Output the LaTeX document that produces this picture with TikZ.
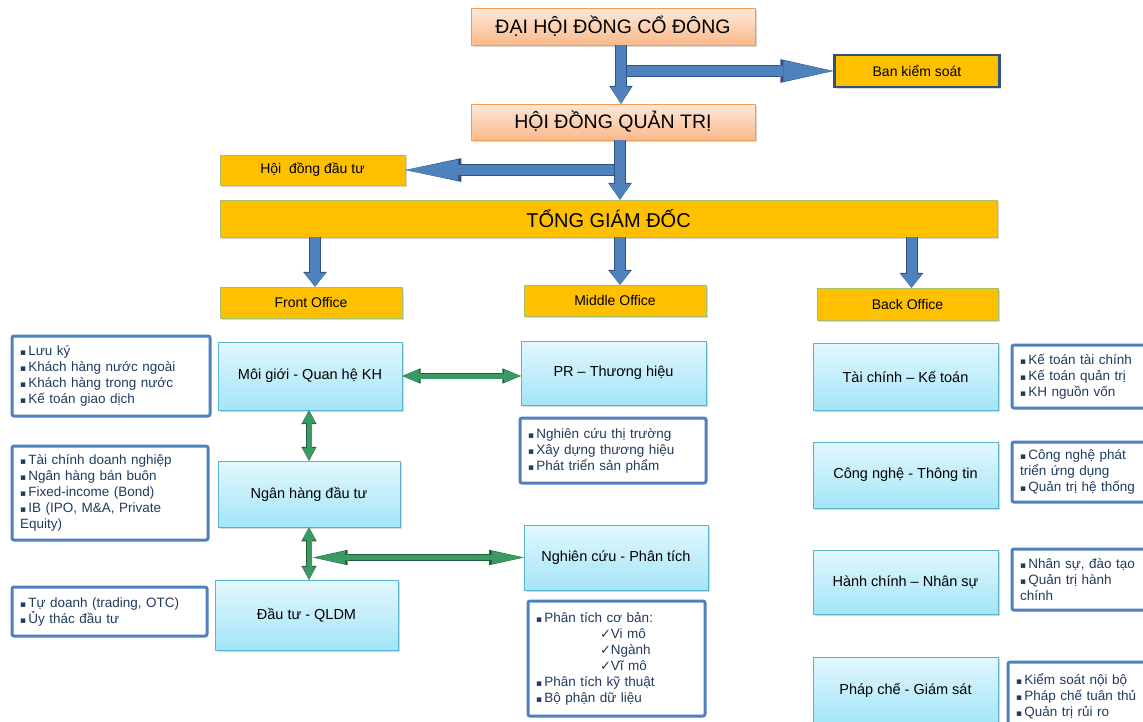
\documentclass[tikz,border=0pt]{standalone}
\usepackage{fontspec}
\setmainfont{Liberation Sans}
\newfontfamily\symfont{DejaVu Sans}
\usetikzlibrary{arrows.meta,shadows}
\definecolor{peachtop}{HTML}{FDE9D9}
\definecolor{peachbot}{HTML}{FAB98A}
\definecolor{peachline}{HTML}{F59D56}
\definecolor{gold}{HTML}{FFC000}
\definecolor{goldline}{HTML}{A5C26A}
\definecolor{cyantop}{HTML}{E2F7FD}
\definecolor{cyanbot}{HTML}{A3E5F8}
\definecolor{cyanline}{HTML}{5AB4CE}
\definecolor{listline}{HTML}{4F81BD}
\definecolor{listtext}{HTML}{1F3B5E}
\definecolor{arrowblue}{HTML}{4F81BD}
\definecolor{arrowedge}{HTML}{2F5282}
\definecolor{arrowgreen}{HTML}{3A9A64}
\definecolor{greenedge}{HTML}{235E3D}
\newcommand{\itm}{{\symfont\fontsize{9}{9}\selectfont ▪}\,}
\newcommand{\chk}{{\symfont\fontsize{13}{13}\selectfont ✓}}
\begin{document}
\begin{tikzpicture}[x=1pt, y=-1pt,
  top box/.style={draw=peachline, top color=peachtop, bottom color=peachbot, minimum width=284pt, minimum height=37pt, font=\fontsize{19.5}{22}\selectfont, drop shadow={shadow xshift=1.5pt,shadow yshift=-1.5pt,opacity=.3}},
  gold box/.style={draw=goldline, fill=gold, font=\fontsize{14}{16}\selectfont, drop shadow={shadow xshift=1.5pt,shadow yshift=-1.5pt,opacity=.3}},
  dept box/.style={draw=cyanline, top color=cyantop, bottom color=cyanbot, minimum width=184pt, minimum height=66pt, font=\fontsize{14.5}{17}\selectfont, drop shadow={shadow xshift=1.5pt,shadow yshift=-1.5pt,opacity=.3}},
  list box/.style={draw=listline, line width=3pt, fill=white, rounded corners=2pt, inner xsep=7pt, align=left, text=listtext, font=\fontsize{13.5}{16}\selectfont},
  blue arrow/.style={draw=arrowblue, line width=10pt,
    -{Triangle[width=21pt,length=#1,line width=0pt]},
    preaction={draw=arrowedge, line width=12pt,
      -{Triangle[width=21pt,length=#1,line width=0pt,scale width=1.13,scale length=1.06]}}},
  blue arrow/.default=16pt,
  green arrow/.style={draw=arrowgreen, line width=5pt,
    {Triangle[width=13pt,length=#1,line width=0pt]}-{Triangle[width=13pt,length=#1,line width=0pt]},
    preaction={draw=greenedge, line width=6.6pt,
      {Triangle[width=13pt,length=#1,line width=0pt,scale width=1.18,scale length=1.08]}-{Triangle[width=13pt,length=#1,line width=0pt,scale width=1.18,scale length=1.08]}}},
  green arrow/.default=13pt]
\clip (0,0) rectangle (1143,721);
\fill[white] (0,0) rectangle (1143,721);
\begin{scope}
\node[top box] (dhcd) at (613,26.5) {ĐẠI HỘI ĐỒNG CỔ ĐÔNG};
\node[top box, minimum height=36pt] (hdqt) at (613,122) {HỘI ĐỒNG QUẢN TRỊ};
\node[gold box, draw=arrowedge, line width=2.5pt, minimum width=165pt, minimum height=32pt] (bks) at (917,71) {Ban kiểm soát};
\node[gold box, minimum width=185pt, minimum height=30pt] (hddt) at (312.5,170) {Hội~ đồng đầu tư};
\node[gold box, minimum width=777pt, minimum height=37pt, font=\fontsize{20}{22}\selectfont] (tgd) at (608.5,218.5) {TỔNG GIÁM ĐỐC};
\node[gold box, minimum width=182pt, minimum height=31pt] (front) at (311,302.5) {Front Office};
\node[gold box, minimum width=182pt, minimum height=31pt] (middle) at (615,300.5) {Middle Office};
\node[gold box, minimum width=181pt, minimum height=32pt] (back) at (907.5,304) {Back Office};
\end{scope}
\begin{scope}
%front office
\node[dept box, minimum height=68pt] (mg) at (310,376) {Môi giới - Quan hệ KH};
\node[dept box, minimum width=182pt] (nhdt) at (309,494) {Ngân hàng đầu tư};
\node[dept box, minimum width=183pt, minimum height=70pt] (dtql) at (306.5,615) {Đầu tư - QLDM};
%middle office
\node[dept box, minimum width=185pt, minimum height=64pt] (pr) at (613.5,373) {PR – Thương hiệu};
\node[dept box, minimum height=65pt] (ncpt) at (616,557.5) {Nghiên cứu - Phân tích};
%back office
\node[dept box, minimum width=185pt, minimum height=67pt] (tckt) at (905.5,376.5) {Tài chính – Kế toán};
\node[dept box, minimum width=185pt] (cntt) at (905.5,475) {Công nghệ - Thông tin};
\node[dept box, minimum width=185pt, minimum height=64pt] (hcns) at (905.5,582) {Hành chính – Nhân sự};
\node[dept box, minimum width=185pt] (pcgs) at (905.5,690) {Pháp chế - Giám sát};
\end{scope}
\begin{scope}
\node[list box, minimum width=198pt, minimum height=80pt, text width=182pt] (lmg) at (111,376) {\itm Lưu ký\\ \itm Khách hàng nước ngoài\\ \itm Khách hàng trong nước\\ \itm Kế toán giao dịch};
\node[list box, minimum width=196pt, minimum height=94pt, text width=180pt] (lnh) at (110,493) {\itm Tài chính doanh nghiệp\\ \itm Ngân hàng bán buôn\\ \itm Fixed-income (Bond)\\ \itm IB (IPO, M\&A, Private\\Equity)};
\node[list box, minimum width=195pt, minimum height=49pt, text width=179pt] (ldt) at (109.5,611.5) {\itm Tự doanh (trading, OTC)\\ \itm Ủy thác đầu tư};
\node[list box, minimum width=186pt, minimum height=65pt, text width=170pt] (lpr) at (613,450.5) {\itm Nghiên cứu thị trường\\ \itm Xây dựng thương hiệu\\ \itm Phát triển sản phẩm};
\node[list box, minimum width=177pt, minimum height=115pt, text width=161pt] (lnc) at (616.5,658.5) {\itm Phân tích cơ bản:\\ \hspace*{64pt}\chk Vi mô\\ \hspace*{64pt}\chk Ngành\\ \hspace*{64pt}\chk Vĩ mô\\ \itm Phân tích kỹ thuật\\ \itm Bộ phận dữ liệu};
\node[list box, minimum width=148pt, minimum height=63pt, text width=132pt] (ltc) at (1086,376.5) {\itm Kế toán tài chính\\ \itm Kế toán quản trị\\ \itm KH nguồn vốn};
\node[list box, minimum width=148pt, minimum height=60pt, text width=132pt] (lcn) at (1086,472) {\itm Công nghệ phát\\triển ứng dụng\\ \itm Quản trị hệ thống};
\node[list box, minimum width=148pt, minimum height=61pt, text width=132pt] (lhc) at (1086,579.5) {\itm Nhân sự, đào tạo\\ \itm Quản trị hành\\chính};
\node[list box, minimum width=152pt, minimum height=68pt, text width=136pt] (lpc) at (1084,696) {\itm Kiểm soát nội bộ\\ \itm Pháp chế tuân thủ\\ \itm Quản trị rủi ro};
\end{scope}
\begin{scope}
\coordinate (j1) at ([xshift=8pt]dhcd.south |- bks.west);
\coordinate (j2) at ([xshift=7pt]hdqt.south |- hddt.east);
\draw[blue arrow=50pt] (j1) -- (bks.west);
\draw[blue arrow=53pt] (j2) -- (hddt.east);
\draw[blue arrow=17pt] ([xshift=8pt]dhcd.south) -- ([xshift=8pt]hdqt.north);
\draw[blue arrow] ([xshift=7pt]hdqt.south) -- ([xshift=7pt]hdqt.south |- tgd.north);
\draw[blue arrow=14pt] ([xshift=4pt]front.north |- tgd.south) -- ([xshift=4pt]front.north);
\draw[blue arrow=14pt] ([xshift=5pt]middle.north |- tgd.south) -- ([xshift=5pt]middle.north);
\draw[blue arrow=14pt] ([xshift=4pt]back.north |- tgd.south) -- ([xshift=4pt]back.north);
%green links
\coordinate (j3) at ([xshift=4pt]nhdt.south |- ncpt.west);
\draw[green arrow=17pt] (mg.east) -- (mg.east -| pr.west);
\draw[green arrow=32pt] (j3) -- (ncpt.west);
\draw[green arrow] (mg.south -| nhdt.south) -- (nhdt.north);
\draw[green arrow] (nhdt.south) -- (nhdt.south |- dtql.north);
\end{scope}
\end{tikzpicture}
\end{document}
